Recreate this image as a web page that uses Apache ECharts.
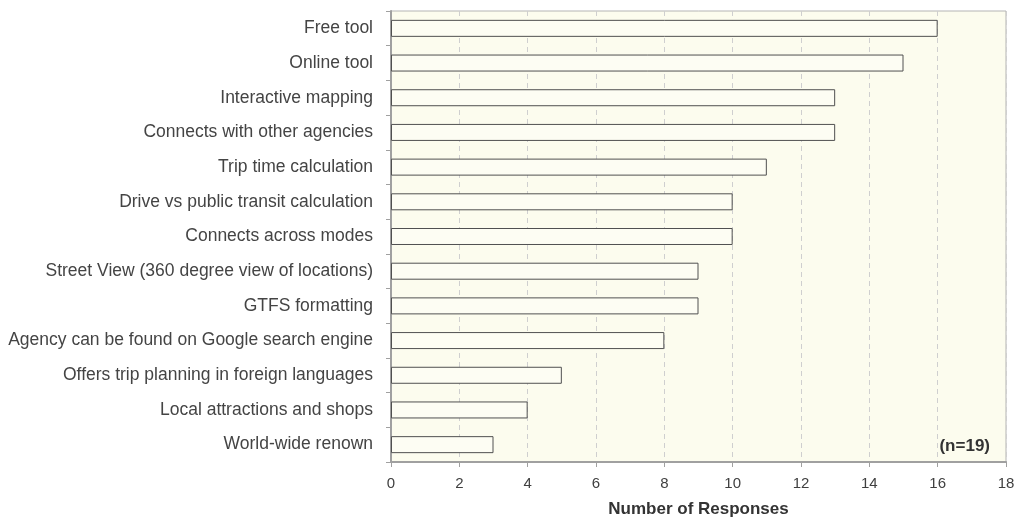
<!DOCTYPE html>
<html>
<head>
<meta charset="utf-8">
<script src="https://cdn.jsdelivr.net/npm/echarts@6/dist/echarts.min.js"></script>
<style>
html,body{margin:0;padding:0;background:#fff;}
#chart{width:1018px;height:519px;}
</style>
</head>
<body>
<div id="chart"></div>
<script>
// Features ranked by number of survey responses
const categories = [
  'Free tool',
  'Online tool',
  'Interactive mapping',
  'Connects with other agencies',
  'Trip time calculation',
  'Drive vs public transit calculation',
  'Connects across modes',
  'Street View (360 degree view of locations)',
  'GTFS formatting',
  'Agency can be found on Google search engine',
  'Offers trip planning in foreign languages',
  'Local attractions and shops',
  'World-wide renown'
];
const responses = [16, 15, 13, 13, 11, 10, 10, 9, 9, 8, 5, 4, 3];
const xTicks = [0, 2, 4, 6, 8, 10, 12, 14, 16, 18];
const sampleNote = '(n=19)';

const chart = echarts.init(document.getElementById('chart'), null, {renderer: 'canvas'});
const font = '"Liberation Sans", Arial, sans-serif';

chart.setOption({
  animation: false,
  grid: {
    left: 391, top: 11, right: 12, bottom: 57,
    outerBoundsMode: 'none', containLabel: false,
    show: true, backgroundColor: '#fcfcee', borderColor: '#b4b4b4', borderWidth: 1
  },
  xAxis: {
    type: 'value',
    min: xTicks[0], max: xTicks[xTicks.length - 1], interval: 2,
    name: 'Number of Responses',
    nameLocation: 'middle', nameGap: 39,
    nameTextStyle: {fontFamily: font, fontSize: 17, fontWeight: 'bold', color: '#333'},
    axisLine: {show: true, lineStyle: {color: '#a0a0a0', width: 2}},
    axisTick: {show: true, length: 5, lineStyle: {color: '#a0a0a0'}},
    axisLabel: {fontFamily: font, fontSize: 15, color: '#404040', margin: 14},
    splitLine: {show: true, lineStyle: {color: '#cfcfcf', type: [5, 4], width: 1}}
  },
  yAxis: {
    type: 'category', inverse: true, data: categories,
    axisLine: {show: true, lineStyle: {color: '#a0a0a0', width: 2}},
    axisTick: {show: true, length: 5, lineStyle: {color: '#a0a0a0'}},
    axisLabel: {fontFamily: font, fontSize: 17.5, color: '#444', margin: 18},
    splitLine: {show: false}
  },
  series: [{
    type: 'bar',
    data: responses,
    barWidth: '49%',
    itemStyle: {color: '#fdfdf3', borderColor: '#505050', borderWidth: 1}
  }],
  graphic: [{
    type: 'text',
    right: 28, top: 438,
    style: {text: sampleNote, fontFamily: font, fontSize: 17, fontWeight: 'bold', fill: '#333'}
  }]
});
</script>
</body>
</html>
